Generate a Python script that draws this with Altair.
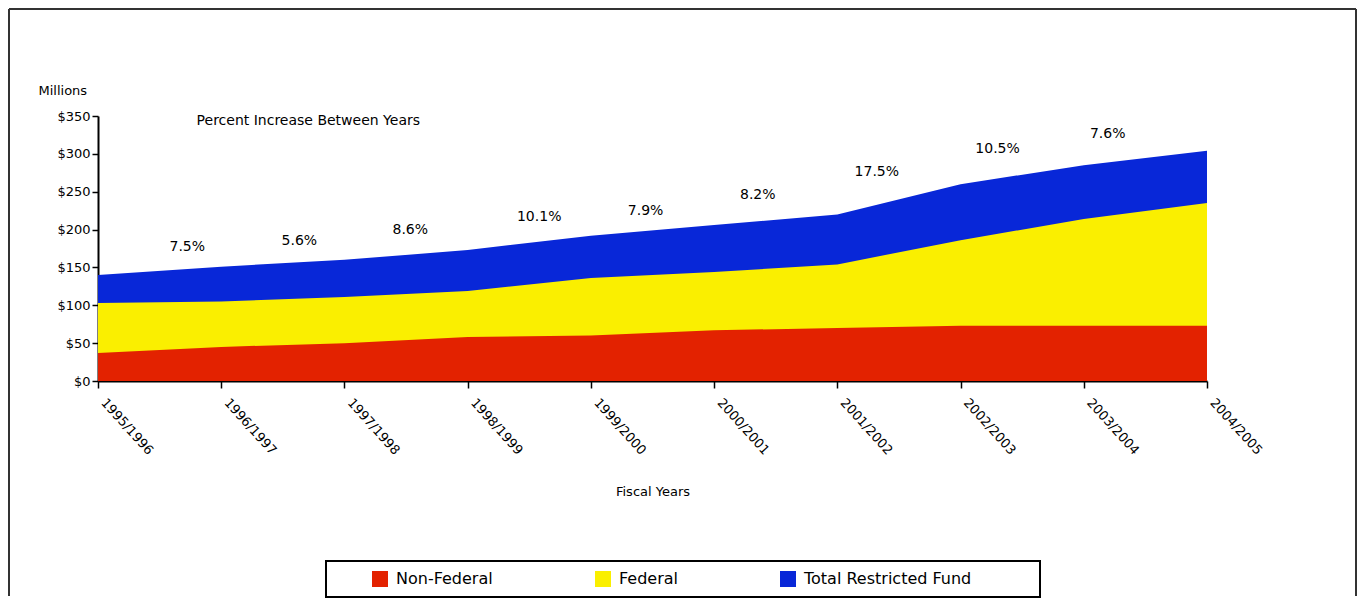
import altair as alt
import pandas as pd

years = ["1995/1996", "1996/1997", "1997/1998", "1998/1999", "1999/2000",
         "2000/2001", "2001/2002", "2002/2003", "2003/2004", "2004/2005"]
non_federal = [37, 45, 50, 58, 60, 67, 70, 73, 73, 73]
federal = [66, 60, 61, 61, 76, 77, 84, 113, 141, 162]
total_restricted = [140, 151, 160, 173, 192, 206, 220, 260, 285, 304]

pct_labels = ["7.5%", "5.6%", "8.6%", "10.1%", "7.9%", "8.2%", "17.5%", "10.5%", "7.6%"]
pct_x = [0.58, 1.49, 2.39, 3.40, 4.30, 5.21, 6.14, 7.12, 8.05]
pct_y = [177, 185, 199, 217, 225, 246, 276, 306, 326]

series = ["Non-Federal", "Federal", "Total Restricted Fund"]
colors = ["#E32200", "#FAEF00", "#0827D8"]

rows = []
for i in range(len(years)):
    rows.append({"idx": i, "series": "Total Restricted Fund", "top": total_restricted[i]})
    rows.append({"idx": i, "series": "Federal", "top": non_federal[i] + federal[i]})
    rows.append({"idx": i, "series": "Non-Federal", "top": non_federal[i]})
df = pd.DataFrame(rows)

pct_df = pd.DataFrame({"idx": pct_x, "top": pct_y, "label": pct_labels})

FONT = "DejaVu Sans"
W, H = 1109, 265

label_expr = "[" + ",".join("'%s'" % y for y in years) + "][datum.value]"

x_scale = alt.Scale(domain=[0, len(years) - 1], nice=False, zero=False)
x_axis = alt.Axis(
    values=list(range(len(years))),
    labelExpr=label_expr,
    labelAngle=48,
    labelAlign="left",
    labelBaseline="middle",
    labelPadding=12,
    labelOffset=5,
    labelOverlap=False,
    labelFlush=False,
    labelFont=FONT,
    labelFontSize=13,
    labelColor="black",
    tickColor="black",
    tickSize=7,
    tickWidth=1.5,
    domainColor="black",
    domainWidth=2,
    grid=False,
    title="Fiscal Years",
    titleFont=FONT,
    titleFontSize=13,
    titleFontWeight="normal",
    titleColor="black",
    titleY=104,
)

y_scale = alt.Scale(domain=[0, 350], nice=False)
y_axis = alt.Axis(
    values=[0, 50, 100, 150, 200, 250, 300, 350],
    labelExpr="'$' + datum.value",
    labelOverlap=False,
    labelFont=FONT,
    labelFontSize=13,
    labelColor="black",
    labelPadding=2,
    tickColor="black",
    tickSize=6,
    tickWidth=1.5,
    domainColor="black",
    domainWidth=2,
    grid=False,
    title="Millions",
    titleFont=FONT,
    titleFontSize=13,
    titleFontWeight="normal",
    titleColor="black",
    titleAngle=0,
    titleAlign="left",
    titleBaseline="middle",
    titleX=-60,
    titleY=-26,
)

x_enc = alt.X("idx:Q", scale=x_scale, axis=x_axis)
y_enc = alt.Y("top:Q", stack=None, scale=y_scale, axis=y_axis)

color_enc = alt.Color(
    "series:N",
    scale=alt.Scale(domain=series, range=colors),
    legend=alt.Legend(
        title=None,
        orient="none",
        legendX=274,
        legendY=455,
        direction="horizontal",
        symbolType="square",
        symbolSize=256,
        symbolStrokeWidth=0,
        symbolOpacity=1,
        labelFont=FONT,
        labelFontSize=16,
        labelColor="black",
        labelOffset=8,
        labelLimit=400,
        columnPadding=102,
        padding=0,
    ),
)

areas = []
for s in ["Total Restricted Fund", "Federal", "Non-Federal"]:
    areas.append(
        alt.Chart(df)
        .transform_filter(alt.datum.series == s)
        .mark_area(interpolate="linear", opacity=1)
        .encode(x=x_enc, y=y_enc, color=color_enc)
    )

pct_text = alt.Chart(pct_df).mark_text(
    align="left", baseline="middle", font=FONT, fontSize=14, color="black"
).encode(x=x_enc, y=y_enc, text="label:N")

caption = alt.Chart(alt.Data(values=[{"idx": 0.8, "top": 343, "t": "Percent Increase  Between Years"}])).mark_text(
    align="left", baseline="middle", font=FONT, fontSize=14, color="black"
).encode(x=x_enc, y=y_enc, text="t:N")

one = alt.Data(values=[{"a": 1}])
frame_top = alt.Chart(one).mark_rule(color="#333333", strokeWidth=2).encode(
    x=alt.value(-89), x2=alt.value(1258), y=alt.value(-107))
frame_left = alt.Chart(one).mark_rule(color="#333333", strokeWidth=2).encode(
    x=alt.value(-89), y=alt.value(-107), y2=alt.value(480))
frame_right = alt.Chart(one).mark_rule(color="#333333", strokeWidth=2).encode(
    x=alt.value(1258), y=alt.value(-107), y2=alt.value(480))

legend_box = alt.Chart(one).mark_rect(fill="white", stroke="black", strokeWidth=2).encode(
    x=alt.value(228), x2=alt.value(942), y=alt.value(445), y2=alt.value(481))

chart = alt.layer(
    frame_top, frame_left, frame_right, legend_box,
    *areas, pct_text, caption
).properties(
    width=W, height=H, padding=0, background="white"
).configure_view(stroke=None)

chart.save("out.html", embed_options={"renderer": "svg", "actions": False})
